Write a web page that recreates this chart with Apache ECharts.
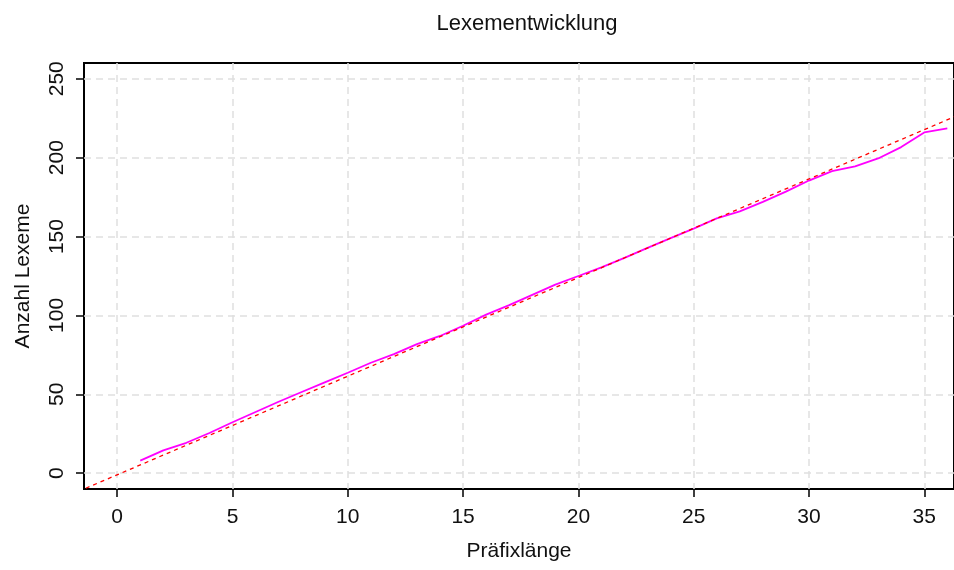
<!DOCTYPE html>
<html>
<head>
<meta charset="utf-8">
<title>Lexementwicklung</title>
<script src="https://cdn.jsdelivr.net/npm/echarts@6/dist/echarts.min.js"></script>
<style>
  html, body { margin: 0; padding: 0; background: #fff; }
  #chart { width: 954px; height: 570px; }
</style>
</head>
<body>
<div id="chart"></div>
<script>
// Prefix length (x) and number of lexemes found (y)
const prefixLength = [1, 2, 3, 4, 5, 6, 7, 8, 9, 10, 11, 12, 13, 14, 15, 16, 17, 18,
  19, 20, 21, 22, 23, 24, 25, 26, 27, 28, 29, 30, 31, 32, 33, 34, 35, 36];
const lexemeCount = [8, 14.5, 19.3, 25.5, 32.3, 38.8, 45.3, 51.5, 57.6, 63.7, 70, 75.5,
  81.8, 87, 93.5, 100.5, 106.5, 113, 119.5, 125, 130.5, 136.5, 142.8, 149, 155,
  161.5, 166, 172, 178.5, 185.5, 191.5, 194.5, 199.5, 206.7, 216, 218.5];

// Straight reference line (end points, clipped by the plot area)
const trendX = [-2, 37];
const trendY = [-13.5, 230.25];

// Tick positions
const xTicks = [0, 5, 10, 15, 20, 25, 30, 35];
const yTicks = [0, 50, 100, 150, 200, 250];

const FONT = '"Liberation Sans", Arial, sans-serif';
const TEXT = '#111';

const curve = prefixLength.map((x, i) => [x, lexemeCount[i]]);
const trend = trendX.map((x, i) => [x, trendY[i]]);

const gridLine = { show: true, lineStyle: { color: '#e0e0e0', width: 1.5, type: [7, 5] } };
const tick = { show: true, length: 8, lineStyle: { color: '#000', width: 1.5 } };

const chart = echarts.init(document.getElementById('chart'), null, { renderer: 'canvas' });
chart.setOption({
  animation: false,
  backgroundColor: '#fff',
  title: {
    text: 'Lexementwicklung',
    left: 522,
    top: 8,
    textAlign: 'center',
    textStyle: { fontFamily: FONT, fontSize: 22, fontWeight: 'normal', color: TEXT }
  },
  grid: {
    left: 84, top: 63, right: -3, bottom: 81,
    show: true, borderColor: '#000', borderWidth: 2, backgroundColor: '#fff'
  },
  xAxis: {
    type: 'value',
    min: -1.44, max: 36.29,
    name: 'Präfixlänge',
    nameLocation: 'middle',
    nameGap: 52,
    nameTextStyle: { fontFamily: FONT, fontSize: 21, color: TEXT },
    axisLine: { show: false, onZero: false },
    axisTick: Object.assign({ customValues: xTicks }, tick),
    axisLabel: { customValues: xTicks, margin: 18, fontFamily: FONT, fontSize: 21, color: TEXT },
    splitLine: gridLine
  },
  yAxis: {
    type: 'value',
    min: -10, max: 260,
    name: 'Anzahl Lexeme',
    nameLocation: 'middle',
    nameGap: 50,
    nameTextStyle: { fontFamily: FONT, fontSize: 21, color: TEXT },
    axisLine: { show: false, onZero: false },
    axisTick: Object.assign({ customValues: yTicks }, tick),
    axisLabel: { customValues: yTicks, rotate: 90, margin: 16, fontFamily: FONT, fontSize: 21, color: TEXT },
    splitLine: gridLine
  },
  series: [
    {
      name: 'Lexeme',
      type: 'line',
      data: curve,
      showSymbol: false,
      clip: true,
      lineStyle: { color: '#ff00ff', width: 1.8 },
      z: 3
    },
    {
      name: 'Trend',
      type: 'line',
      data: trend,
      showSymbol: false,
      clip: true,
      lineStyle: { color: '#ff0000', width: 1.3, type: [4, 4] },
      z: 4
    }
  ]
});
</script>
</body>
</html>
